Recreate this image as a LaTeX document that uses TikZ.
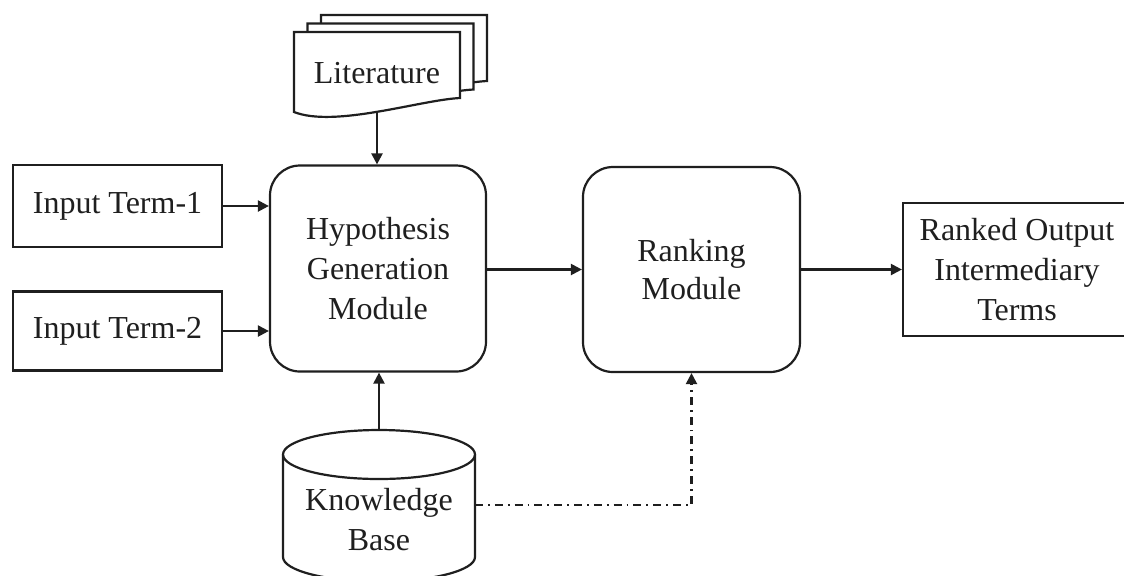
\documentclass[tikz,border=0pt]{standalone}
\usepackage{fontspec}
\setmainfont{Liberation Serif}
\usetikzlibrary{arrows.meta}

\tikzset{
  ln/.style={line width=1.1pt, draw=black!88},
  arr/.style={ln, -{Triangle[length=5.5pt,width=5.5pt]}},
  dashdotted/.style={arr, dash pattern=on 4pt off 2.5pt on 0.9pt off 2.5pt},
  txt/.style={align=center, inner sep=0pt, font=\fontsize{16pt}{20pt}\selectfont, text=black!88},
  plainbox/.style={txt, ln, rectangle, fill=white},
  modbox/.style={txt, ln, rectangle, rounded corners=15pt, fill=white,
                 minimum width=108pt, minimum height=103pt},
}

\begin{document}
\begin{tikzpicture}[x=0.5pt, y=-0.5pt]
  \useasboundingbox (0,0) rectangle (1124,575);

  % stacked literature documents, back to front
  \foreach \dx/\dy in {27/-17, 13.5/-8.5, 0/0} {
    \draw[ln, fill=white, shift={(\dx,\dy)}]
      (294,32) -- (460,32) -- (460,98)
      .. controls (420,100) and (335,128) .. (294,112) -- cycle;
  }
  \node[txt] (lit) at (377,73) {Literature};
  \coordinate (litbot) at (377,112);

  % input terms
  \node[plainbox, minimum width=104.5pt, minimum height=41pt] (in1) at (117.5,206) {Input Term-1};
  \node[plainbox, minimum width=104.5pt, minimum height=39.5pt] (in2) at (117.5,331) {Input Term-2};

  % modules
  \node[modbox] (hyp) at (378,268.5) {Hypothesis\\Generation\\Module};
  \node[modbox, minimum width=108.5pt, minimum height=102.5pt] (rank) at (691.5,269.5) {Ranking\\[-1pt]Module};

  % output (its right side runs past the edge of the page)
  \node[plainbox, minimum width=114pt, minimum height=66.5pt] (out) at (1017,269.5)
    {Ranked Output\\Intermediary\\Terms};

  % knowledge base cylinder
  \draw[ln, fill=white] (283,454.5) -- (283,557)
    arc[start angle=180, end angle=360, x radius=48pt, y radius=12.25pt]
    -- (475,454.5);
  \draw[ln] (379,454.5) ellipse [x radius=48pt, y radius=12.25pt];
  \node[txt] (kb) at (379,520) {Knowledge\\Base};
  \coordinate (kbtop) at (379,430);
  \coordinate (kbright) at (475,505);

  % connectors
  \draw[arr] (litbot) -- (litbot |- hyp.north);
  \draw[arr] (in1.east) -- (in1.east -| hyp.west);
  \draw[arr] (in2.east) -- (in2.east -| hyp.west);
  \draw[arr] (kbtop) -- (kbtop |- hyp.south);
  \draw[arr] (hyp.east |- rank.west) -- (rank.west);
  \draw[arr] (rank.east) -- (rank.east -| out.west);
  \draw[dashdotted] (kbright) -| (rank.south);
\end{tikzpicture}
\end{document}
